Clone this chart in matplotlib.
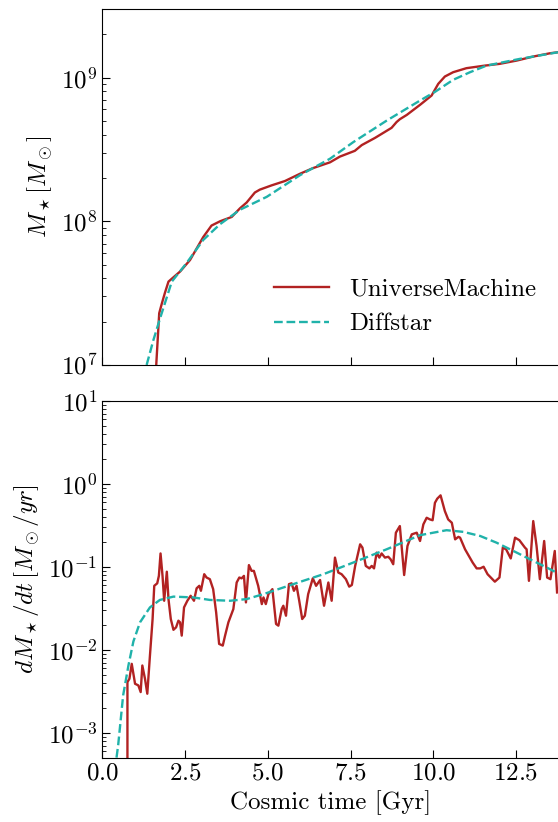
import matplotlib
matplotlib.use("Agg")
import matplotlib.pyplot as plt
import numpy as np

plt.rcParams['font.family'] = 'serif'
plt.rcParams['font.serif'] = ['cmr10']
plt.rcParams['mathtext.fontset'] = 'cm'
plt.rcParams['axes.formatter.use_mathtext'] = True
plt.rcParams['axes.unicode_minus'] = False
plt.rcParams['font.size'] = 18

# ---- stellar mass history ----
t_mass_um = [1.63, 1.72, 1.79, 1.89, 2.0, 2.35, 2.65, 3.05, 3.30, 3.56, 3.91, 4.16, 4.36,
             4.61, 4.76, 5.12, 5.52, 5.97, 6.37, 6.88, 7.18, 7.63, 7.84, 8.24, 8.74, 8.89,
             8.99, 9.20, 9.60, 9.95, 10.15, 10.35, 10.60, 11.0, 11.56, 12.0, 12.52, 13.02,
             13.53, 13.77]
logm_um = [7.0, 7.36, 7.42, 7.50, 7.58, 7.65, 7.73, 7.89, 7.97, 8.0, 8.03, 8.09, 8.13,
           8.20, 8.22, 8.25, 8.28, 8.33, 8.37, 8.41, 8.45, 8.49, 8.53, 8.58, 8.65, 8.69,
           8.71, 8.74, 8.81, 8.875, 8.956, 9.007, 9.037, 9.065, 9.083, 9.095, 9.118, 9.146,
           9.169, 9.176]

t_mass_ds = [1.34, 1.54, 1.74, 2.10, 2.55, 3.05, 3.56, 4.16, 4.97, 5.97, 6.88, 7.58, 8.59,
             9.60, 10.05, 10.60, 11.11, 11.61, 12.62, 13.77]
logm_ds = [7.0, 7.17, 7.32, 7.58, 7.71, 7.87, 7.98, 8.08, 8.17, 8.32, 8.435, 8.55, 8.70,
           8.84, 8.90, 8.984, 9.037, 9.083, 9.13, 9.176]

# ---- star formation history ----
t_sfr_um = [0.76, 0.76, 0.82, 0.89, 0.99, 1.09, 1.16, 1.21, 1.29, 1.36, 1.44, 1.52, 1.57,
            1.66, 1.71, 1.76, 1.82, 1.87, 1.95, 2.0, 2.07, 2.15, 2.23, 2.30, 2.35, 2.40,
            2.47, 2.57, 2.67, 2.77, 2.85, 2.93, 2.98, 3.08, 3.15, 3.25, 3.35, 3.44, 3.53,
            3.64, 3.71, 3.81, 3.96, 4.06, 4.14, 4.21, 4.28, 4.34, 4.43, 4.51, 4.58, 4.71,
            4.82, 4.87, 4.94, 5.02, 5.14, 5.25, 5.32, 5.42, 5.47, 5.55, 5.64, 5.72, 5.79,
            5.87, 5.95, 6.04, 6.12, 6.22, 6.36, 6.46, 6.58, 6.70, 6.83, 6.93, 7.03, 7.13,
            7.23, 7.36, 7.46, 7.54, 7.64, 7.79, 7.86, 7.96, 8.07, 8.14, 8.21, 8.29, 8.37,
            8.44, 8.54, 8.64, 8.71, 8.79, 8.87, 8.99, 9.12, 9.22, 9.35, 9.50, 9.60, 9.70,
            9.80, 9.90, 9.98, 10.05, 10.12, 10.22, 10.35, 10.45, 10.56, 10.66, 10.76, 10.81,
            10.96, 11.19, 11.31, 11.42, 11.52, 11.64, 11.86, 12.0, 12.10, 12.20, 12.34,
            12.47, 12.60, 12.77, 12.82, 12.89, 13.02, 13.12, 13.22, 13.35, 13.44, 13.54,
            13.67, 13.74]
logsfr_um = [-5.0, -2.39, -2.35, -2.17, -2.41, -2.43, -2.51, -2.19, -2.35, -2.53, -2.07,
             -1.63, -1.23, -1.20, -1.11, -0.84, -1.11, -1.41, -1.06, -1.39, -1.63, -1.76,
             -1.73, -1.65, -1.67, -1.83, -1.49, -1.41, -1.35, -1.41, -1.26, -1.23, -1.29,
             -1.09, -1.13, -1.15, -1.27, -1.55, -1.93, -1.95, -1.83, -1.67, -1.51, -1.19,
             -1.13, -1.14, -1.11, -1.43, -0.98, -1.05, -1.05, -1.23, -1.45, -1.37, -1.45,
             -1.33, -1.27, -1.69, -1.71, -1.51, -1.47, -1.59, -1.21, -1.20, -1.29, -1.23,
             -1.41, -1.63, -1.59, -1.33, -1.14, -1.23, -1.16, -1.47, -1.19, -1.41, -0.89,
             -1.07, -1.09, -1.15, -1.24, -1.22, -0.99, -0.73, -0.77, -0.99, -1.02, -0.99,
             -1.02, -0.83, -0.89, -0.84, -0.89, -0.88, -0.91, -0.97, -0.59, -0.51, -1.10,
             -0.75, -0.61, -0.59, -0.69, -0.49, -0.41, -0.43, -0.44, -0.23, -0.18, -0.14,
             -0.33, -0.43, -0.47, -0.67, -0.64, -0.65, -0.79, -0.95, -1.02, -1.02, -1.00,
             -1.09, -1.18, -1.13, -0.77, -0.79, -0.90, -0.65, -0.68, -0.77, -0.79, -1.17,
             -0.45, -0.75, -1.15, -0.69, -1.13, -1.15, -0.81, -1.31]

t_sfr_ds = [0.43, 0.48, 0.63, 0.79, 0.94, 1.14, 1.44, 1.74, 2.15, 2.75, 3.25, 3.86, 4.36,
            4.87, 5.47, 6.07, 6.68, 7.58, 8.59, 9.60, 10.40, 10.91, 11.42, 11.91, 12.42,
            12.92, 13.43, 13.77]
logsfr_ds = [-3.30, -3.15, -2.55, -2.19, -1.90, -1.67, -1.49, -1.40, -1.36, -1.37, -1.40,
             -1.41, -1.39, -1.33, -1.25, -1.17, -1.09, -0.95, -0.79, -0.62, -0.56, -0.58,
             -0.63, -0.71, -0.81, -0.91, -1.01, -1.08]

red = '#b22222'
teal = '#20b2aa'

fig = plt.figure(figsize=(5.58, 8.22), dpi=100)
ax1 = fig.add_axes([0.1833, 0.5560, 0.8186, 0.4331])
ax2 = fig.add_axes([0.1833, 0.0782, 0.8186, 0.4343], sharex=ax1)

ax1.plot(t_mass_um, 10**np.array(logm_um), color=red, lw=1.7, label='UniverseMachine')
ax1.plot(t_mass_ds, 10**np.array(logm_ds), color=teal, lw=1.7, ls='--', label='Diffstar')
ax1.set_yscale('log')
ax1.set_ylim(1e7, 3e9)
ax1.set_ylabel(r'$M_\star[M_\odot]$')
ax1.legend(loc='lower right', frameon=False, handlelength=2.2, bbox_to_anchor=(1.0, 0.02))
ax1.tick_params(labelbottom=False)

ax2.plot(t_sfr_um, 10**np.array(logsfr_um), color=red, lw=1.7)
ax2.plot(t_sfr_ds, 10**np.array(logsfr_ds), color=teal, lw=1.7, ls='--')
ax2.set_yscale('log')
ax2.set_ylim(5e-4, 10)
ax2.set_xlim(0, 13.8)
ax2.set_xticks([0.0, 2.5, 5.0, 7.5, 10.0, 12.5])
ax2.set_xlabel('Cosmic time [Gyr]')
ax2.set_ylabel(r'$dM_\star/dt\,[M_\odot/yr]$')

for ax in (ax1, ax2):
    ax.tick_params(which='both', direction='in')
    ax.tick_params(which='major', length=6)
    ax.tick_params(which='minor', length=3)

fig.savefig('out.png', dpi=100)
